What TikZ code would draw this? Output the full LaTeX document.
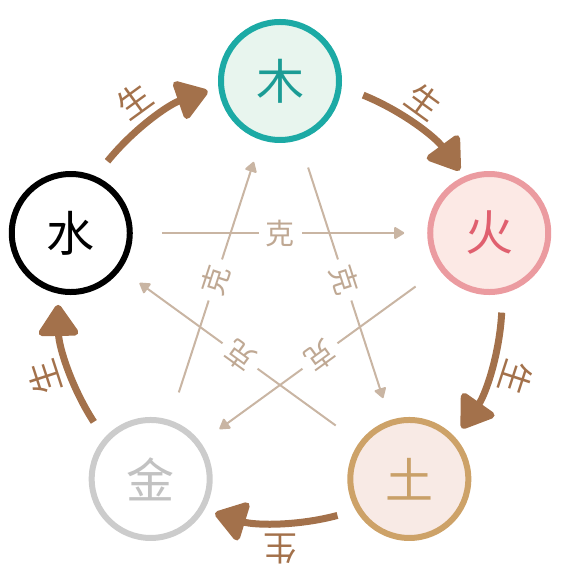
\documentclass[tikz,border=0pt]{standalone}
\usepackage{fontspec}
\newfontfamily\cjk{Noto Sans CJK SC}
\usetikzlibrary{arrows.meta,calc}
\definecolor{shengc}{HTML}{A3714B}
\definecolor{kec}{HTML}{C9B5A3}
\definecolor{kelc}{HTML}{BFA893}
\definecolor{muS}{HTML}{1CAAA5}
\definecolor{muF}{HTML}{E8F5EE}
\definecolor{muT}{HTML}{1B9C95}
\definecolor{huoS}{HTML}{EB9BA0}
\definecolor{huoF}{HTML}{FCE9E5}
\definecolor{huoT}{HTML}{E0606F}
\definecolor{tuS}{HTML}{CDA268}
\definecolor{tuF}{HTML}{F8EAE5}
\definecolor{tuT}{HTML}{C9A068}
\definecolor{jinS}{HTML}{CCCCCC}
\definecolor{jinT}{HTML}{C2C2C2}
\begin{document}
\begin{tikzpicture}[x=1pt,y=1pt,
  elem/.style={circle,minimum size=118pt,line width=6pt,inner sep=0pt,font=\cjk\fontsize{48}{48}\selectfont},
  sheng/.style={line width=7pt,color=shengc,-{Triangle[length=34pt,width=44pt,round]}},
  shenglbl/.style={text=shengc,font=\cjk\fontsize{34}{34}\selectfont,inner sep=0pt},
  ke/.style={line width=2pt,color=kec,-{Triangle[length=11pt,width=13pt,round]},shorten <=91pt,shorten >=85pt},
  kelbl/.style={text=kelc,fill=white,font=\cjk\fontsize{29}{29}\selectfont,inner sep=7pt,sloped,allow upside down,pos=0.5}
]
\useasboundingbox (0,0) rectangle (566,575);
\coordinate (c) at (280,274);
% elements
\node[elem,draw=muS,fill=muF,text=muT] (mu) at ($(c)+(90:220)$) {木};
\node[elem,draw=huoS,fill=huoF,text=huoT] (huo) at ($(c)+(18:220)$) {火};
\node[elem,draw=tuS,fill=tuF,text=tuT] (tu) at ($(c)+(-54:220)$) {土};
\node[elem,draw=jinS,fill=white,text=jinT] (jin) at ($(c)+(-126:220)$) {金};
\node[elem,draw=black,fill=white,text=black] (shui) at ($(c)+(162:220)$) {水};
% ke lines
\draw[ke] (shui.center) -- node[kelbl]{克} (huo.center);
\draw[ke] (mu.center) -- node[kelbl]{克} (tu.center);
\draw[ke] (tu.center) -- node[kelbl]{克} (shui.center);
\draw[ke] (huo.center) -- node[kelbl]{克} (jin.center);
\draw[ke] (jin.center) -- node[kelbl]{克} (mu.center);
% sheng arrows
\coordinate (a1) at ($(c)+(141:222)$);
\coordinate (a2) at ($(c)+(68:222)$);
\coordinate (a3) at ($(c)+(-3:222)$);
\coordinate (a4) at ($(c)+(-75:222)$);
\coordinate (a5) at ($(c)+(-147:222)$);
\draw[sheng] (a1) arc[start angle=141,end angle=109,radius=222];
\draw[sheng] (a2) arc[start angle=68,end angle=36,radius=222];
\draw[sheng] (a3) arc[start angle=-3,end angle=-35,radius=222];
\draw[sheng] (a4) arc[start angle=-75,end angle=-107,radius=222];
\draw[sheng] (a5) arc[start angle=-147,end angle=-179,radius=222];
% sheng labels
\node[shenglbl,rotate=36] (l1) at ($(c)+(126:248)$) {生};
\node[shenglbl,rotate=-36] (l2) at ($(c)+(54:246)$) {生};
\node[shenglbl,rotate=-108] (l3) at ($(c)+(-18:248)$) {生};
\node[shenglbl,rotate=180] (l4) at ($(c)+(-90:248)$) {生};
\node[shenglbl,rotate=108] (l5) at ($(c)+(198:248)$) {生};
\end{tikzpicture}
\end{document}
